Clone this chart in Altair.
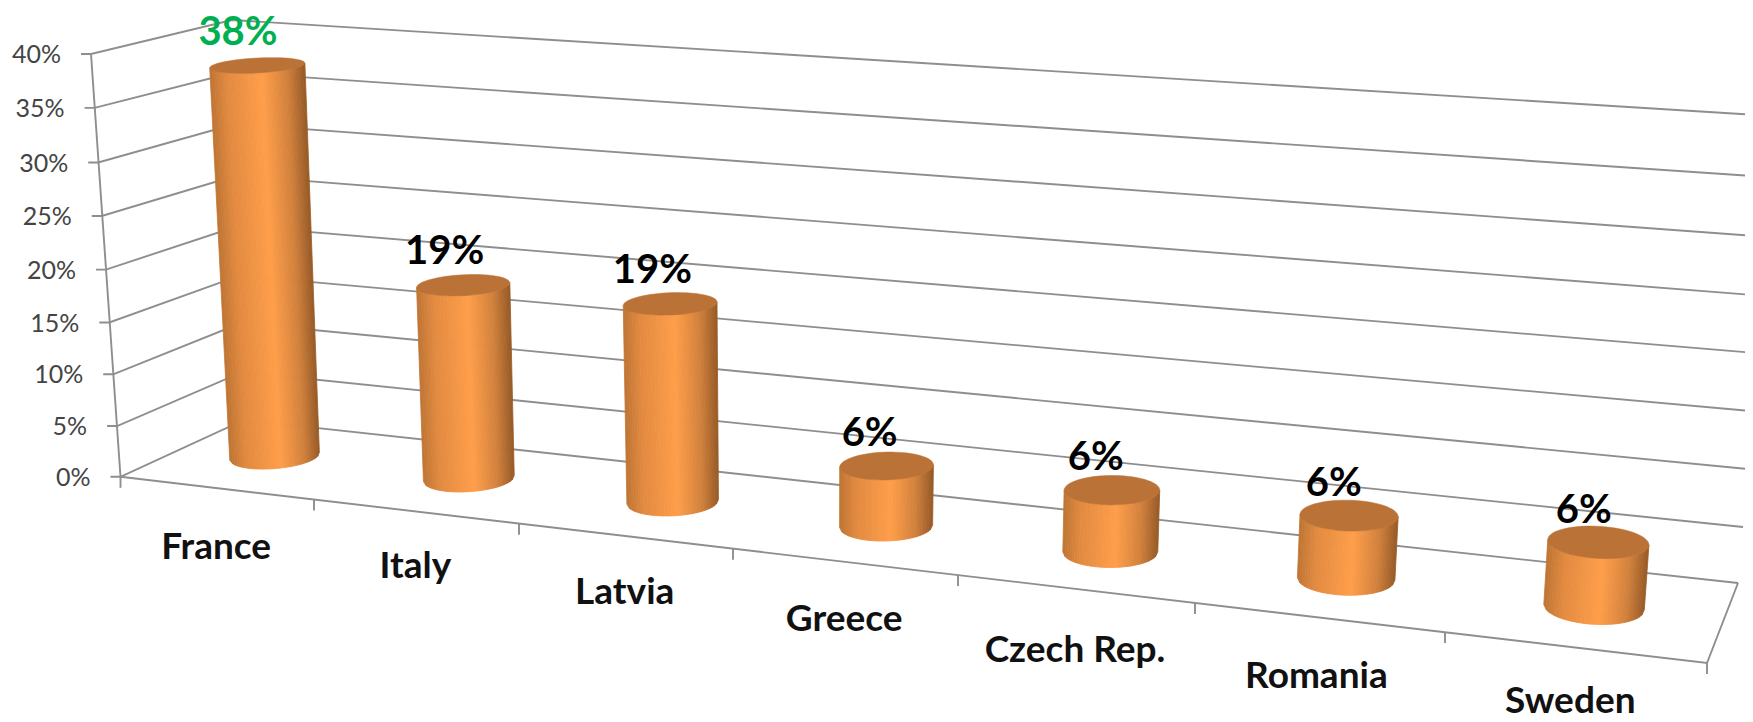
import numpy as np
import pandas as pd
import altair as alt

# ---- data
CATEGORIES = ["France", "Italy", "Latvia", "Greece", "Czech Rep.", "Romania", "Sweden"]
VALUES = [38, 19, 19, 6, 6, 6, 6]
TICKS = [0, 5, 10, 15, 20, 25, 30, 35, 40]
VMAX = 40

# ---- camera: pairs (width share, depth share, value) -> page pixel of the chart box
FRONT_LEFT = [(120.5, 476.8), (117.1, 426), (113.2, 374.3), (109.3, 322.5), (106, 269.6),
              (101.8, 216), (98.2, 162.5), (94.6, 107.9), (91, 54)]
BACK_LEFT = [(244, 420), (242.5, 372), (241, 323), (239.5, 275.6), (238, 226),
             (236.5, 175.5), (235, 124), (233.5, 72.5), (232, 20)]
BACK_RIGHT = [(1738, 583), (1743, 527), (1747, 469), (1751, 411), (1755, 353),
              (1759, 295.5), (1763, 236.6), (1767, 177), (1772, 116)]
FRONT_EDGE = [(120.5, 476.8), (314, 499.6), (519, 523.7), (733, 548.8), (958, 575), (1195, 603), (1445, 632), (1707, 663)]
BOX = []
for t, a, b, c in zip(TICKS, FRONT_LEFT, BACK_LEFT, BACK_RIGHT):
    BOX += [((0, 0, t), a), ((0, 1, t), b), ((1, 1, t), c)]
for k, a in enumerate(FRONT_EDGE[1:]):
    BOX.append((((k + 1) / 7, 0, 0), a))

rows = []
for (u, d, v), (x, y) in BOX:
    X = [u, d, v / VMAX, 1]
    rows.append(X + [0, 0, 0, 0] + [-x * c for c in X])
    rows.append([0, 0, 0, 0] + X + [-y * c for c in X])
P = np.linalg.svd(np.array(rows, float))[2][-1].reshape(3, 4)


def camera(u, d, v):
    h = P @ np.array([u, d, v / VMAX, 1.0])
    return np.array([h[0] / h[2], h[1] / h[2]])


# what the camera misses on the measured edges is spread back over the box
r_fl = np.array([np.array(a) - camera(0, 0, t) for t, a in zip(TICKS, FRONT_LEFT)])
r_bl = np.array([np.array(a) - camera(0, 1, t) for t, a in zip(TICKS, BACK_LEFT)])
r_br = np.array([np.array(a) - camera(1, 1, t) for t, a in zip(TICKS, BACK_RIGHT)])
EDGE_U = [k / 7 for k in range(8)]
r_fe = np.array([np.array(a) - camera(u, 0, 0) for u, a in zip(EDGE_U, FRONT_EDGE)])


def lookup(xs, table, x):
    return np.array([np.interp(x, xs, table[:, 0]), np.interp(x, xs, table[:, 1])])


def project(u, d, v):
    front = lookup(EDGE_U, r_fe, u) + (lookup(TICKS, r_fl, v) - r_fl[0]) * (1 - u)
    back = (1 - u) * lookup(TICKS, r_bl, v) + u * lookup(TICKS, r_br, v)
    p = camera(u, d, v) + (1 - d) * front + d * back
    return float(p[0]), float(p[1])


# ---- layout
n = len(CATEGORIES)
CYL_DEPTH = 0.47
CYL_DEPTH_SLOPE = -0.03
CYL_SHIFT = 0.0005
BASE_LIFT = 0.4
RAD_U = 0.39 / n / 2
RAD_D = 0.21
SHADE_POS = [0.0, 0.18, 0.55, 0.82, 1.0]
SHADE_RGB = [(190, 116, 52), (226, 138, 64), (255, 158, 74), (208, 128, 60), (150, 90, 38)]
CAP = "#BA7236"
GRID = "#8E8E8E"
STRIPS = 40
LABEL_DY = [60, 55, 57, 58, 62, 60, 54.5]
LABEL_DX = [0, 0, 0, 0, 0, -2, -4]
VALUE_TOP = 33
VALUE_COLORS = ["#00B050"] + ["#000000"] * 6


def shade(s):
    c = [np.interp(s, SHADE_POS, [p[i] for p in SHADE_RGB]) for i in range(3)]
    return "#%02x%02x%02x" % tuple(int(round(k)) for k in c)


def circle_pt(uc, th, v):
    depth = CYL_DEPTH + CYL_DEPTH_SLOPE * uc
    return project(uc + RAD_U * np.cos(th), depth + RAD_D * np.sin(th), v)


# gridlines and axis lines
lines = []
lid = 0


def add_line(pts):
    global lid
    for i, (x, y) in enumerate(pts):
        lines.append({"id": lid, "seq": i, "px": x, "py": y})
    lid += 1


for t in TICKS:
    a = project(0, 0, t)
    add_line([(a[0] - 10, a[1]), a, project(0, 1, t), project(1, 1, t)])
add_line([project(0, 0, 0), project(0, 0, VMAX)])
add_line([project(0, 0, 0), project(1, 0, 0), project(1, 1, 0)])
for k in range(n + 1):
    a = project(k / n, 0, 0)
    add_line([a, (a[0], a[1] + 11)])
lines = pd.DataFrame(lines)

# cylinders
strips, caps, value_labels, cat_labels = [], [], [], []
sid = 0
for k, (cat, val) in enumerate(zip(CATEGORIES, VALUES)):
    uc = (k + 0.5) / n + CYL_SHIFT
    ring_th = np.linspace(np.pi / 2, 5 * np.pi / 2, 721)
    xs = np.array([circle_pt(uc, th, val)[0] for th in ring_th])
    half = len(ring_th) // 2
    th_l = ring_th[int(np.argmin(xs[:half]))]
    th_r = ring_th[half + int(np.argmax(xs[half:]))]
    ss = np.linspace(0, 1, STRIPS + 1)
    ths = th_l + (th_r - th_l) * np.arccos(1 - 2 * ss) / np.pi
    for j in range(STRIPS):
        col = shade((ss[j] + ss[j + 1]) / 2)
        poly = [circle_pt(uc, ths[j], val), circle_pt(uc, ths[j + 1], val),
                circle_pt(uc, ths[j + 1], BASE_LIFT), circle_pt(uc, ths[j], BASE_LIFT)]
        for i, (x, y) in enumerate(poly):
            strips.append({"id": sid, "seq": i, "px": x, "py": y, "col": col})
        sid += 1
    for i, th in enumerate(np.linspace(0, 2 * np.pi, 60, endpoint=False)):
        x, y = circle_pt(uc, th, val)
        caps.append({"id": k, "seq": i, "px": x, "py": y})
    cx, cy = project(uc, CYL_DEPTH + CYL_DEPTH_SLOPE * uc, val)
    value_labels.append({"px": cx - 14 - 6 * (1 - uc), "py": max(cy - 33 + 2 * uc, VALUE_TOP), "t": f"{val}%", "col": VALUE_COLORS[k]})
    fx, fy = project((k + 0.5) / n, 0, 0)
    cat_labels.append({"px": fx + LABEL_DX[k], "py": fy + LABEL_DY[k], "t": cat})
tick_labels = []
for t in TICKS:
    x, y = project(0, 0, t)
    tick_labels.append({"px": x - 30, "py": y + 1, "t": f"{t}%"})

X = alt.X("px:Q", axis=None, scale=alt.Scale(domain=[8, 1745], nice=False, zero=False))
Y = alt.Y("py:Q", axis=None, scale=alt.Scale(domain=[722, 8], nice=False, zero=False))

grid = alt.Chart(lines).mark_line(color=GRID, strokeWidth=1.9, clip=True).encode(
    x=X, y=Y, detail="id:N", order="seq:Q")
body = alt.Chart(pd.DataFrame(strips)).mark_line(interpolate="linear-closed", filled=True, strokeWidth=0.8).encode(
    x=X, y=Y, detail="id:N", order="seq:Q",
    fill=alt.Fill("col:N", scale=None), stroke=alt.Stroke("col:N", scale=None))
cap = alt.Chart(pd.DataFrame(caps)).mark_line(interpolate="linear-closed", filled=True, fill=CAP, stroke=CAP, strokeWidth=0.5).encode(
    x=X, y=Y, detail="id:N", order="seq:Q")
vals = alt.Chart(pd.DataFrame(value_labels)).mark_text(font="Lato", fontWeight="bold", fontSize=40, align="center", baseline="middle").encode(
    x=X, y=Y, text="t:N", color=alt.Color("col:N", scale=None))
cats = alt.Chart(pd.DataFrame(cat_labels)).mark_text(font="Lato", fontWeight="bold", fontSize=37, align="center", baseline="middle", color="#111111").encode(
    x=X, y=Y, text="t:N")
tlab = alt.Chart(pd.DataFrame(tick_labels)).mark_text(font="Lato", fontSize=25, align="right", baseline="middle", color="#444444").encode(
    x=X, y=Y, text="t:N")

chart = alt.layer(grid, body, cap, tlab, cats, vals).properties(
    width=1737, height=714, padding=0, background="white",
    autosize=alt.AutoSizeParams(type="none"),
).configure_view(stroke=None)

chart.save("out.html", embed_options={"renderer": "svg", "actions": False})
